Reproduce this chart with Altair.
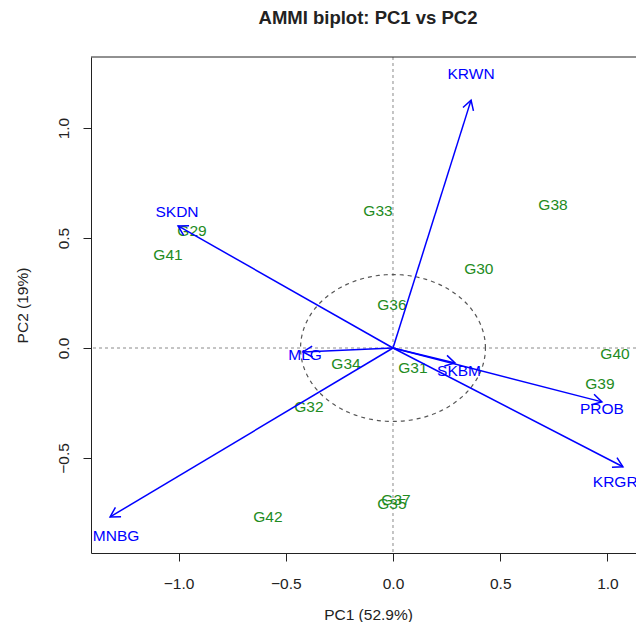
import altair as alt
import numpy as np
import pandas as pd

# ---------------- data ----------------
genotypes = ["G29", "G30", "G31", "G32", "G33", "G34", "G35", "G36",
             "G37", "G38", "G39", "G40", "G41", "G42"]
gen_pc1 = [-0.937, 0.400, 0.093, -0.392, -0.070, -0.219, -0.005, -0.005,
           0.014, 0.746, 0.965, 1.035, -1.049, -0.583]
gen_pc2 = [0.532, 0.360, -0.091, -0.268, 0.623, -0.073, -0.710, 0.195,
           -0.690, 0.650, -0.164, -0.027, 0.423, -0.768]

environments = ["KRWN", "SKDN", "MLG", "SKBM", "PROB", "KRGRJ", "MNBG"]
env_pc1 = [0.364, -1.002, -0.420, 0.289, 0.974, 1.072, -1.319]
env_pc2 = [1.127, 0.555, -0.018, -0.068, -0.245, -0.540, -0.768]
env_label_pc1 = [0.364, -1.007, -0.410, 0.308, 0.974, 1.054, -1.291]
env_label_pc2 = [1.245, 0.618, -0.032, -0.105, -0.277, -0.610, -0.855]

x_ticks = [-1.0, -0.5, 0.0, 0.5, 1.0]
y_ticks = [-0.5, 0.0, 0.5, 1.0]

ellipse_r_pc1 = 0.431
ellipse_r_pc2 = 0.334

title_text = ["AMMI biplot: PC1 vs PC2"]

# ---------------- layout / style ----------------
W, H = 545, 496
XMIN, XMAX = -1.408, 1.133
YMIN, YMAX = -0.932, 1.323
FONT = "Liberation Sans"
FS = 15.5
BLUE = "#0000FF"
GREEN = "#228B22"
INK = "#222222"

gen_df = pd.DataFrame({"name": genotypes, "pc1": gen_pc1, "pc2": gen_pc2})
env_df = pd.DataFrame({
    "name": environments, "pc1": env_pc1, "pc2": env_pc2,
    "lx": env_label_pc1, "ly": env_label_pc2,
})
env_df["ox"] = 0.0
env_df["oy"] = 0.0
px_x = W / (XMAX - XMIN)
px_y = H / (YMAX - YMIN)
env_df["angle"] = np.degrees(np.arctan2(-env_df["pc2"] * px_y, env_df["pc1"] * px_x)) % 360

t = np.linspace(0, 2 * np.pi, 241)
ell_df = pd.DataFrame({"pc1": ellipse_r_pc1 * np.cos(t),
                       "pc2": ellipse_r_pc2 * np.sin(t),
                       "k": np.arange(len(t))})
zero_df = pd.DataFrame({"z": [0.0]})
title_df = pd.DataFrame({"t": title_text})

xs = alt.Scale(domain=[XMIN, XMAX], nice=False, zero=False)
ys = alt.Scale(domain=[YMIN, YMAX], nice=False, zero=False)

x_axis = alt.Axis(values=x_ticks, format=".1f", title="PC1 (52.9%)", grid=False,
                  domain=True, domainColor=INK, domainWidth=1,
                  tickColor=INK, tickSize=8, tickWidth=1,
                  labelPadding=15, labelFont=FONT, labelFontSize=FS, labelColor=INK,
                  labelFlush=False,
                  titleFont=FONT, titleFontSize=FS, titleFontWeight="normal",
                  titleColor=INK, titleX=277, titleY=61,
                  titleBaseline="middle", titleAlign="center")
y_axis = alt.Axis(values=y_ticks, format=".1f", title="PC2 (19%)", grid=False,
                  domain=True, domainColor=INK, domainWidth=1,
                  tickColor=INK, tickSize=8, tickWidth=1,
                  labelAngle=270, labelAlign="center", labelBaseline="bottom",
                  labelPadding=12, labelFont=FONT, labelFontSize=FS, labelColor=INK,
                  labelFlush=False,
                  titleFont=FONT, titleFontSize=FS, titleFontWeight="normal",
                  titleColor=INK, titleAngle=270, titleX=-69, titleY=H / 2,
                  titleBaseline="middle", titleAlign="center")


def X(field):
    return alt.X(field, type="quantitative", scale=xs, axis=x_axis)


def Y(field):
    return alt.Y(field, type="quantitative", scale=ys, axis=y_axis)


vline = alt.Chart(zero_df).mark_rule(color="#8a8a8a", strokeDash=[3, 3], strokeWidth=1).encode(x=X("z"))
hline = alt.Chart(zero_df).mark_rule(color="#8a8a8a", strokeDash=[3, 3], strokeWidth=1).encode(y=Y("z"))

top_border = alt.Chart(zero_df).mark_rule(color=INK, strokeWidth=1).encode(
    x=alt.value(0), x2=alt.value(W), y=alt.value(0))

ellipse = alt.Chart(ell_df).mark_line(color="#555555", strokeDash=[4, 4], strokeWidth=1.2).encode(
    x=X("pc1"), y=Y("pc2"), order="k:Q")

gen_text = alt.Chart(gen_df).mark_text(font=FONT, fontSize=FS, color=GREEN,
                                       align="center", baseline="middle").encode(
    x=X("pc1"), y=Y("pc2"), text="name:N")

arrows = alt.Chart(env_df).mark_rule(color=BLUE, strokeWidth=1.5).encode(
    x=X("ox"), y=Y("oy"), x2="pc1", y2="pc2")

heads = alt.Chart(env_df).mark_point(
    shape="M -1 -0.577 L 0 0 L -1 0.577", filled=False, size=361,
    strokeWidth=1.5, color=BLUE, opacity=1).encode(
    x=X("pc1"), y=Y("pc2"), angle=alt.Angle("angle:Q", scale=None))

env_text = alt.Chart(env_df).mark_text(font=FONT, fontSize=FS, color=BLUE,
                                       align="center", baseline="middle").encode(
    x=X("lx"), y=Y("ly"), text="name:N")

title_mark = alt.Chart(title_df).mark_text(font=FONT, fontSize=18.5, fontWeight="bold",
                                           color=INK, align="center", baseline="middle").encode(
    x=alt.value(277), y=alt.value(-39), text="t:N")

chart = alt.layer(
    vline, hline, ellipse, gen_text, arrows, heads, env_text, top_border, title_mark
).properties(
    width=W, height=H,
    padding={"left": 83, "top": 49, "right": 0, "bottom": 69},
    autosize=alt.AutoSizeParams(type="none"),
).configure_view(stroke=None)

chart.save("out.html", embed_options={"renderer": "svg", "actions": False})
